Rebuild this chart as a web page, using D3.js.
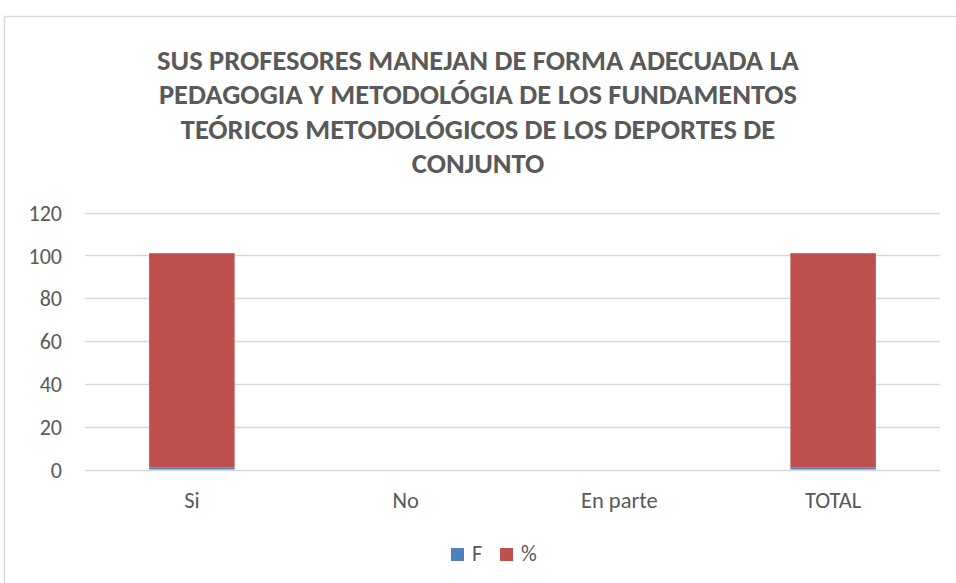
<!DOCTYPE html>
<html><head><meta charset="utf-8">
<script src="https://cdn.jsdelivr.net/npm/d3@7"></script>
<style>body{margin:0;background:#fff}svg{display:block}</style>
</head><body>
<svg id="c" width="956" height="583"></svg>
<script>
const categories = ["Si", "No", "En parte", "TOTAL"];
const seriesNames = ["F", "%"];
const valuesF = [1, 0, 0, 1];
const valuesPct = [100, 0, 0, 100];
const yTicks = [0, 20, 40, 60, 80, 100, 120];
const titleLines = [
  "SUS PROFESORES MANEJAN DE FORMA ADECUADA LA",
  "PEDAGOGIA Y METODOLÓGIA DE LOS FUNDAMENTOS",
  "TEÓRICOS METODOLÓGICOS DE LOS DEPORTES DE",
  "CONJUNTO"
];
const colors = ["#4F81BD", "#C0504D"];

const svg = d3.select("#c");
const font = "Calibri, Carlito, Lato, 'Open Sans', sans-serif";
const textColor = "#595959";

// chart border
svg.append("rect").attr("x", 4.5).attr("y", 16.5).attr("width", 960).attr("height", 600)
  .attr("fill", "#fff").attr("stroke", "#D9D9D9").attr("stroke-width", 1.5);

// title
const title = svg.append("text").attr("text-anchor", "middle")
  .attr("font-family", font).attr("font-weight", "bold").attr("font-size", 28.5)
  .attr("fill", textColor);
titleLines.forEach((t, i) => {
  title.append("tspan").attr("x", 478).attr("y", 69.5 + i * 34.5).text(t);
});

const pLeft = 85, pRight = 940, pTop = 212.5, pBottom = 469.5;
const x = d3.scaleBand().domain(categories).range([pLeft, pRight]).padding(0);
const y = d3.scaleLinear().domain([0, 120]).range([pBottom, pTop]);

// gridlines
svg.append("g").selectAll("line").data(yTicks).join("line")
  .attr("x1", pLeft).attr("x2", pRight)
  .attr("y1", d => Math.round(y(d)) + 0.5).attr("y2", d => Math.round(y(d)) + 0.5)
  .attr("stroke", "#D9D9D9").attr("stroke-width", 1.3);

// y axis labels
const yAxis = d3.axisLeft(y).tickValues(yTicks).tickSize(0).tickPadding(0);
const yg = svg.append("g").attr("transform", `translate(${pLeft - 23},0)`).call(yAxis);
yg.select(".domain").remove();
yg.selectAll("text").attr("font-family", font).attr("font-size", 22).attr("fill", textColor).attr("dy", "0.35em");

// stacked bars
const rows = categories.map((c, i) => ({cat: c, F: valuesF[i], "%": valuesPct[i]}));
const stack = d3.stack().keys(seriesNames)(rows);
const barW = x.bandwidth() * 0.4;
svg.append("g").selectAll("g").data(stack).join("g")
  .attr("fill", (d, i) => colors[i])
  .selectAll("rect").data(d => d).join("rect")
  .attr("x", d => x(d.data.cat) + (x.bandwidth() - barW) / 2)
  .attr("width", barW)
  .attr("y", d => y(d[1]))
  .attr("height", d => Math.max(0, y(d[0]) - y(d[1])));

// x axis labels
const xAxis = d3.axisBottom(x).tickSize(0).tickPadding(0);
const xg = svg.append("g").attr("transform", `translate(0,508)`).call(xAxis);
xg.select(".domain").remove();
xg.selectAll("text").attr("font-family", font).attr("font-size", 22.5).attr("fill", textColor)
  .attr("y", 0).attr("dy", 0);

// legend
const legend = svg.append("g").attr("transform", "translate(451,548)");
const lx = [0, 49];
seriesNames.forEach((n, i) => {
  const g = legend.append("g").attr("transform", `translate(${lx[i]},0)`);
  g.append("rect").attr("width", 13).attr("height", 13).attr("fill", colors[i]);
  g.append("text").attr("x", 21).attr("y", 13).attr("font-family", font).attr("font-size", 22)
    .attr("fill", textColor).text(n);
});
</script>
</body></html>
